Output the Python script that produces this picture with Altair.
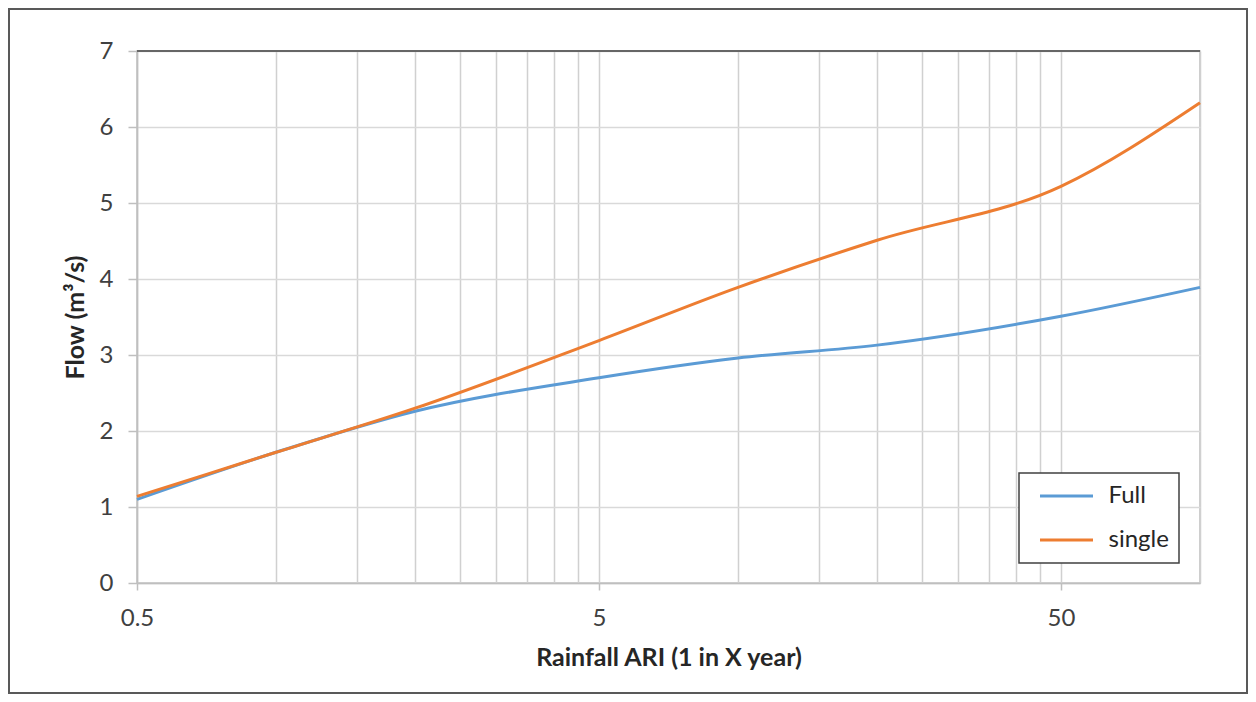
import altair as alt
import pandas as pd

# ---- data ----
ari = [0.5, 1, 2, 5, 10, 20, 50, 100]
full = [1.10, 1.72, 2.26, 2.70, 2.96, 3.13, 3.51, 3.89]
single = [1.14, 1.72, 2.30, 3.19, 3.89, 4.51, 5.22, 6.32]
series_names = ["Full", "single"]
series_colors = ["#5b9bd5", "#ed7d31"]

x_label_values = [0.5, 5, 50]
x_grid_values = [0.5, 1, 1.5, 2, 2.5, 3, 3.5, 4, 4.5, 5,
                 10, 15, 20, 25, 30, 35, 40, 45, 50, 100]
x_domain = [0.5, 100]
y_values = [0, 1, 2, 3, 4, 5, 6, 7]
y_domain = [0, 7]

rows = []
for name, vals in zip(series_names, [full, single]):
    for a, v in zip(ari, vals):
        rows.append({"ari": a, "flow": v, "series": name})
df = pd.DataFrame(rows)

label_test = " || ".join(f"datum.value == {v}" for v in x_label_values)
label_expr = f"({label_test}) ? format(datum.value, '~g') : ''"

W, H = 1063, 532
FONT = "Lato"
FS = 24
TFS = 25

lines = alt.Chart(df).mark_line(strokeWidth=3, interpolate="monotone").encode(
    x=alt.X(
        "ari:Q",
        scale=alt.Scale(type="log", domain=x_domain, nice=False),
        axis=alt.Axis(
            values=x_grid_values,
            labelExpr=label_expr,
            title="Rainfall ARI (1 in X year)",
            grid=True,
            gridColor="#d0d0d0",
            gridWidth=1.5,
            tickSize=7,
            tickColor="#bfbfbf",
            tickWidth=1.5,
            tickOpacity={"condition": {"test": label_test, "value": 1}, "value": 0},
            domainColor="#bfbfbf",
            domainWidth=1.5,
            labelFontSize=FS,
            labelColor="#404040",
            labelBaseline="alphabetic",
            labelPadding=35,
            labelOverlap=False,
            labelFlush=False,
            titleFontSize=TFS,
            titleFontWeight="bold",
            titleColor="#262626",
            titleBaseline="alphabetic",
            titleY=82,
        ),
    ),
    y=alt.Y(
        "flow:Q",
        scale=alt.Scale(domain=y_domain, nice=False),
        axis=alt.Axis(
            values=y_values,
            format="d",
            title="Flow (m³/s)",
            gridColor="#d9d9d9",
            gridWidth=1.5,
            tickSize=9,
            tickColor="#bfbfbf",
            tickWidth=1.5,
            domainColor="#bfbfbf",
            domainWidth=1.5,
            labelFontSize=FS,
            labelColor="#404040",
            labelPadding=15,
            titleFontSize=TFS,
            titleFontWeight="bold",
            titleColor="#262626",
            titleAngle=270,
            titleAlign="center",
            titleBaseline="bottom",
            titleX=-49,
            titleY=266,
        ),
    ),
    color=alt.Color(
        "series:N",
        scale=alt.Scale(domain=series_names, range=series_colors),
        legend=alt.Legend(
            title=None,
            orient="none",
            legendX=882,
            legendY=422,
            direction="vertical",
            symbolType="stroke",
            symbolSize=2809,
            symbolStrokeWidth=3,
            clipHeight=26,
            rowPadding=18,
            padding=10,
            symbolOffset=9.5,
            labelOffset=14,
            labelFontSize=FS,
            labelColor="#262626",
            strokeColor="#404040",
            fillColor="white",
            labelExpr="datum.label + '\u00a0\u00a0'",
        ),
    ),
)

top_rule = alt.Chart(alt.Data(values=[{}])).mark_rule(
    color="#666666", strokeWidth=2
).encode(y=alt.datum(7))

frame = alt.Chart(alt.Data(values=[{}])).mark_rect(
    fill="white", fillOpacity=0, stroke="#595959", strokeWidth=2
).encode(
    x=alt.value(-128), x2=alt.value(1110), y=alt.value(-42), y2=alt.value(642)
)

chart = alt.layer(lines, top_rule, frame).properties(
    width=W,
    height=H,
    padding={"left": 129, "top": 43, "right": 48, "bottom": 111},
    autosize=alt.AutoSizeParams(type="none"),
    background="white",
).configure(font=FONT).configure_view(
    stroke="#bfbfbf", strokeWidth=1.5
).configure_legend(strokeWidth=1.5)

chart.save("out.html", embed_options={"renderer": "svg", "actions": False})
